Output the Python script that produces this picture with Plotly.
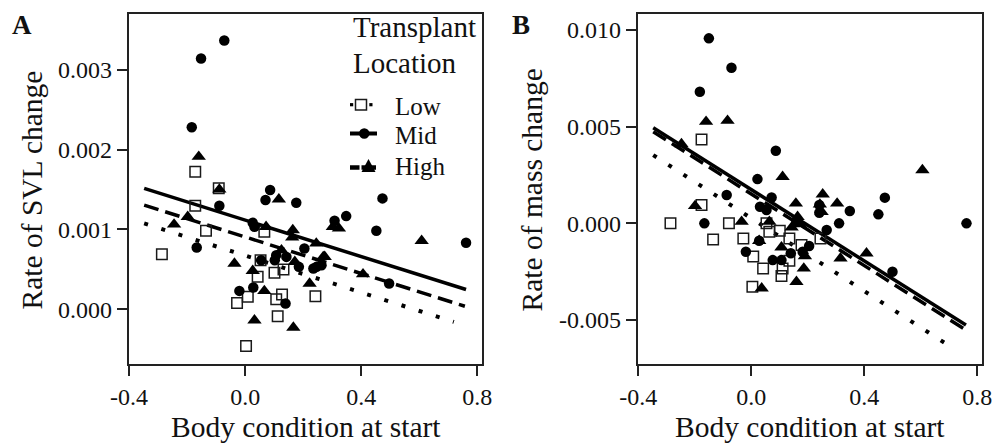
import plotly.graph_objects as go

# ---------------- data ----------------
# Panel A: Rate of SVL change vs body condition
a_low_x = [-0.287, -0.172, -0.172, -0.135, -0.091, 0.066, 0.053, 0.043, 0.101, 0.132,
           -0.028, 0.009, 0.107, 0.127, 0.242, 0.112, 0.003]
a_low_y = [0.00069, 0.001724, 0.001297, 0.000983, 0.001515, 0.000971, 0.000615, 0.000406,
           0.000456, 0.000498, 0.0000795, 0.000155, 0.000126, 0.000184, 0.000163,
           -0.0000879, -0.00046]

a_mid_x = [-0.072, -0.152, -0.184, -0.167, -0.089, 0.086, 0.070, 0.176, 0.026, 0.032,
           0.473, 0.348, 0.308, 0.452, 0.761, 0.204, 0.107, -0.020, 0.028, 0.139,
           0.496, 0.055, 0.102, 0.185, 0.246, 0.235, 0.263, 0.142]
a_mid_y = [0.003368, 0.003142, 0.00228, 0.000774, 0.001297, 0.001494, 0.001368, 0.001335,
           0.001084, 0.001033, 0.001389, 0.001167, 0.001109, 0.000983, 0.000833, 0.000762,
           0.000678, 0.00023, 0.000272, 0.0000711, 0.000322, 0.000615, 0.000615, 0.000531,
           0.000531, 0.000511, 0.000552, 0.000656]

a_high_x = [-0.160, -0.089, -0.198, -0.245, 0.116, 0.072, 0.164, 0.162, 0.245, 0.302,
            0.323, 0.608, -0.037, 0.026, 0.066, 0.222, 0.032, 0.166, 0.406, 0.274,
            0.125, 0.171, 0.269]
a_high_y = [0.001912, 0.001502, 0.001159, 0.001063, 0.001377, 0.001033, 0.000992, 0.0009,
            0.000824, 0.001033, 0.001013, 0.000858, 0.000573, 0.000481, 0.00023, 0.000322,
            -0.000138, -0.00023, 0.000439, 0.000657, 0.00074, 0.000594, 0.000656]

# Panel B: Rate of mass change vs body condition
b_low_x = [-0.286, -0.176, -0.176, -0.135, -0.079, -0.028, 0.007, 0.004, 0.042, 0.054,
           0.064, 0.101, 0.135, 0.111, 0.107, 0.135, 0.178, 0.245]
b_low_y = [0.0, 0.00434, 0.00095, -0.00083, 0.0, -0.00078, -0.00172, -0.00328, -0.00233,
           0.0, -0.00043, -0.00038, -0.00078, -0.00233, -0.00272, -0.00193, -0.00112,
           -0.00078]

b_mid_x = [-0.150, -0.070, -0.182, 0.087, 0.022, -0.087, -0.166, 0.473, 0.450, 0.349,
           0.311, 0.762, 0.500, -0.019, 0.076, 0.140, 0.182, 0.205, 0.028, 0.031,
           0.054, 0.072, 0.241, 0.267, 0.160, 0.241, 0.107]
b_mid_y = [0.00957, 0.00805, 0.00681, 0.00376, 0.00229, 0.00147, 0.0, 0.00133, 0.000466,
           0.000638, 0.0, 0.0, -0.0025, -0.00147, -0.0019, -0.00155, -0.00147, -0.00117,
           -0.0009, 0.00086, 0.00069, 0.00134, 0.00095, -0.00034, 0.0000862, 0.00055,
           -0.0019]

b_high_x = [-0.160, -0.084, -0.247, -0.199, -0.034, 0.111, 0.158, 0.164, 0.253, 0.243,
            0.304, 0.606, 0.408, 0.316, 0.028, 0.037, 0.160, 0.186, 0.190, 0.107,
            0.064, 0.143, 0.172, 0.249]
b_high_y = [0.00526, 0.00531, 0.0041, 0.0009, 0.0000862, 0.00241, 0.00103, 0.00034,
            0.0015, 0.00098, 0.00103, 0.00276, -0.00155, -0.00181, -0.0009, -0.00336,
            -0.00302, -0.00233, -0.00169, -0.00124, 0.0000862, -0.00021, -0.0000345,
            0.0006]

# Fitted regression lines (endpoints)
a_fit_low_x = [-0.348, 0.719]
a_fit_low_y = [0.001075, -0.000159]
a_fit_mid_x = [-0.348, 0.761]
a_fit_mid_y = [0.001515, 0.000247]
a_fit_high_x = [-0.348, 0.757]
a_fit_high_y = [0.001305, 0.0000377]

b_fit_low_x = [-0.347, 0.711]
b_fit_low_y = [0.00353, -0.00643]
b_fit_mid_x = [-0.347, 0.760]
b_fit_mid_y = [0.004945, -0.00526]
b_fit_high_x = [-0.347, 0.760]
b_fit_high_y = [0.00474, -0.00552]

groups = ["Low", "Mid", "High"]
legend_title = ["Transplant", "Location"]
x_ticks = [-0.4, 0.0, 0.4, 0.8]
x_tick_text = ["-0.4", "0.0", "0.4", "0.8"]
a_y_ticks = [0.0, 0.001, 0.002, 0.003]
a_y_tick_text = ["0.000", "0.001", "0.002", "0.003"]
b_y_ticks = [-0.005, 0.0, 0.005, 0.010]
b_y_tick_text = ["-0.005", "0.000", "0.005", "0.010"]

# ---------------- styles ----------------
FONT = "Liberation Serif, Times New Roman, serif"
INK = "#111111"
W, H = 996, 445

marker_style = {
    "Low": dict(symbol="square-open", size=10.5, color="#1a1a1a", line=dict(width=1.5, color="#1a1a1a")),
    "Mid": dict(symbol="circle", size=10.5, color="#000000"),
    "High": dict(symbol="triangle-up", size=12.5, color="#000000"),
}
line_style = {
    "Low": dict(color="#000000", width=4, dash="4px,14px"),
    "Mid": dict(color="#000000", width=3.5, dash="solid"),
    "High": dict(color="#000000", width=3.5, dash="15px,7px"),
}

fig = go.Figure()

panel_a = {
    "Low": (a_low_x, a_low_y, a_fit_low_x, a_fit_low_y),
    "Mid": (a_mid_x, a_mid_y, a_fit_mid_x, a_fit_mid_y),
    "High": (a_high_x, a_high_y, a_fit_high_x, a_fit_high_y),
}
panel_b = {
    "Low": (b_low_x, b_low_y, b_fit_low_x, b_fit_low_y),
    "Mid": (b_mid_x, b_mid_y, b_fit_mid_x, b_fit_mid_y),
    "High": (b_high_x, b_high_y, b_fit_high_x, b_fit_high_y),
}

for panel, (xa, ya) in ((panel_a, ("x", "y")), (panel_b, ("x2", "y2"))):
    for g in groups:
        px_, py_, fx, fy = panel[g]
        fig.add_trace(go.Scatter(x=fx, y=fy, mode="lines", line=line_style[g],
                                 xaxis=xa, yaxis=ya, showlegend=False, hoverinfo="skip"))
    for g in groups:
        px_, py_, fx, fy = panel[g]
        fig.add_trace(go.Scatter(x=px_, y=py_, mode="markers", marker=marker_style[g],
                                 xaxis=xa, yaxis=ya, showlegend=False, name=g))

ax_common = dict(showline=True, linewidth=1.6, linecolor="#222222", mirror=True,
                 showgrid=False, zeroline=False, ticks="outside", ticklen=10, tickwidth=1.5,
                 tickcolor="#222222", automargin=False,
                 tickfont=dict(family=FONT, size=24, color=INK))

y_dom = [1 - 364.3 / H, 1 - 14 / H]

fig.update_layout(
    template="none",
    width=W, height=H, autosize=False,
    margin=dict(l=0, r=0, t=0, b=0, pad=0),
    paper_bgcolor="white", plot_bgcolor="white",
    font=dict(family=FONT, color=INK),
    showlegend=False,
    xaxis=dict(domain=[128.5 / W, 482.3 / W], range=[-0.402, 0.817], anchor="y",
               tickvals=x_ticks, ticktext=x_tick_text, **ax_common),
    yaxis=dict(domain=y_dom, range=[-0.00069, 0.0037], anchor="x",
               tickvals=a_y_ticks, ticktext=a_y_tick_text, **ax_common),
    xaxis2=dict(domain=[637.7 / W, 982.3 / W], range=[-0.402, 0.818], anchor="y2",
                tickvals=x_ticks, ticktext=x_tick_text, **ax_common),
    yaxis2=dict(domain=y_dom, range=[-0.00729, 0.01083], anchor="x2",
                tickvals=b_y_ticks, ticktext=b_y_tick_text, **ax_common),
)


def px_x(v):
    return v / W


def px_y(v):
    return 1 - v / H


# ---- text annotations ----
annots = [
    dict(text="<b>A</b>", x=21.7, y=25, size=27, xanchor="center"),
    dict(text="<b>B</b>", x=521, y=25, size=27, xanchor="center"),
    dict(text="Rate of SVL change", x=31.5, y=190, size=29.5, xanchor="center", textangle=-90),
    dict(text="Rate of mass change", x=531.5, y=190, size=29.5, xanchor="center", textangle=-90),
    dict(text="Body condition at start", x=306, y=426.5, size=29.5, xanchor="center"),
    dict(text="Body condition at start", x=810, y=426.5, size=29.5, xanchor="center"),
    dict(text=legend_title[0], x=350.5, y=27, size=29, xanchor="left"),
    dict(text=legend_title[1], x=350.5, y=63.3, size=29, xanchor="left"),
]
legend_rows_y = {"Low": 106, "Mid": 136, "High": 166}
for g in groups:
    annots.append(dict(text=g, x=392.5, y=legend_rows_y[g], size=25, xanchor="left"))

for a in annots:
    fig.add_annotation(xref="paper", yref="paper", x=px_x(a["x"]), y=px_y(a["y"]),
                       xanchor=a["xanchor"], yanchor="middle", showarrow=False,
                       text=a["text"], textangle=a.get("textangle", 0),
                       font=dict(family=FONT, size=a["size"], color=INK))

# ---- legend keys (drawn as layout shapes) ----
def rect(x0, y0, x1, y1, **kw):
    fig.add_shape(type="rect", xref="paper", yref="paper",
                  x0=px_x(x0), x1=px_x(x1), y0=px_y(y0), y1=px_y(y1), **kw)


def seg(x0, y0, x1, y1, width, dash="solid"):
    fig.add_shape(type="line", xref="paper", yref="paper",
                  x0=px_x(x0), x1=px_x(x1), y0=px_y(y0), y1=px_y(y1),
                  line=dict(color="#000000", width=width, dash=dash))


# Low: dot - open square - dot
ly = legend_rows_y["Low"] - 1.3
rect(350, ly - 1.6, 353.2, ly + 1.6, fillcolor="#000000", line=dict(width=0))
rect(369.3, ly - 1.6, 372.5, ly + 1.6, fillcolor="#000000", line=dict(width=0))
rect(355.5, ly - 5.3, 366.5, ly + 5.3, fillcolor="rgba(0,0,0,0)",
     line=dict(color="#1a1a1a", width=1.5))

# Mid: solid line with filled circle
my = legend_rows_y["Mid"] - 2.5
seg(350, my, 377, my, 4)
fig.add_shape(type="circle", xref="paper", yref="paper",
              x0=px_x(359), x1=px_x(369.5), y0=px_y(my - 5.2), y1=px_y(my + 5.2),
              fillcolor="#000000", line=dict(width=0))

# High: dash + filled triangle
hy = legend_rows_y["High"] + 1.5
seg(350, hy, 376, hy, 4.5)
fig.add_shape(type="rect", xref="paper", yref="paper",
              x0=px_x(359.5), x1=px_x(361.5), y0=px_y(hy - 3), y1=px_y(hy + 3),
              fillcolor="white", line=dict(width=0))
tri = "M {} {} L {} {} L {} {} Z".format(px_x(361.5), px_y(hy + 4.5), px_x(375.5), px_y(hy + 4.5),
                                         px_x(368.5), px_y(hy - 8.5))
fig.add_shape(type="path", xref="paper", yref="paper", path=tri,
              fillcolor="#000000", line=dict(width=0))

fig.write_html("out.html")
